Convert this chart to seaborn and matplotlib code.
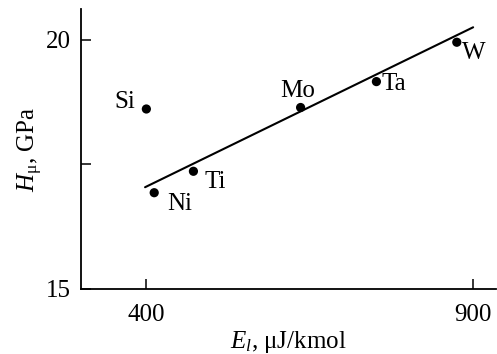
import pandas as pd
import matplotlib
matplotlib.use('Agg')
import matplotlib.pyplot as plt
import seaborn as sns

# data
elements = ['Si', 'Ni', 'Ti', 'Mo', 'Ta', 'W']
energy = [400, 412, 472, 636, 752, 875]
hardness = [18.61, 16.93, 17.36, 18.64, 19.16, 19.95]
fit_x = [398, 900]
fit_y = [17.04, 20.25]

sns.set_style('ticks')
plt.rcParams['font.family'] = ['Liberation Serif', 'DejaVu Serif']
plt.rcParams['mathtext.fontset'] = 'custom'
plt.rcParams['mathtext.rm'] = 'Liberation Serif'
plt.rcParams['mathtext.it'] = 'Liberation Serif:italic'
plt.rcParams['text.color'] = 'black'
plt.rcParams['axes.labelcolor'] = 'black'

data = pd.DataFrame({'element': elements, 'E': energy, 'H': hardness})
fit = pd.DataFrame({'E': fit_x, 'H': fit_y})

fig = plt.figure(figsize=(4.97, 3.54), dpi=100)
ax = fig.add_axes([0.163, 0.184, 0.835, 0.791])

sns.lineplot(x='E', y='H', data=fit, color='black', linewidth=1.5, ax=ax)
sns.scatterplot(x='E', y='H', data=data, color='black', s=44, edgecolor='none', ax=ax, zorder=3)

# label offsets in points
offsets = {'Si': (-23, 5), 'Ni': (9.5, -8), 'Ti': (8, -8), 'Mo': (-15, 12), 'Ta': (3.5, -2), 'W': (3.5, -8)}
for el, x, y in zip(elements, energy, hardness):
    dx, dy = offsets[el]
    ax.annotate(el, (x, y), xytext=(dx, dy), textcoords='offset points',
                ha='left', va='center', fontsize=18, color='black')

ax.set_xlim(300, 935)
ax.set_ylim(15, 20.62)
ax.set_xticks([400, 900])
ax.set_yticks([15, 17.5, 20])
ax.set_yticklabels(['15', '', '20'])
ax.tick_params(direction='in', length=7, width=1.1, labelsize=18, colors='black')
ax.tick_params(axis='x', pad=11)
ax.tick_params(axis='y', pad=7)
for s in ['top', 'right']:
    ax.spines[s].set_visible(False)
for s in ['left', 'bottom']:
    ax.spines[s].set_linewidth(1.3)
    ax.spines[s].set_color('black')

ax.set_xlabel(r'$\mathit{E}_{\mathit{l}}$, μJ/kmol', fontsize=18, labelpad=2)
ax.set_ylabel(r'$\mathit{H}_{\mathrm{μ}}$, GPa', fontsize=18, labelpad=1)

plt.savefig('out.png', dpi=100)
